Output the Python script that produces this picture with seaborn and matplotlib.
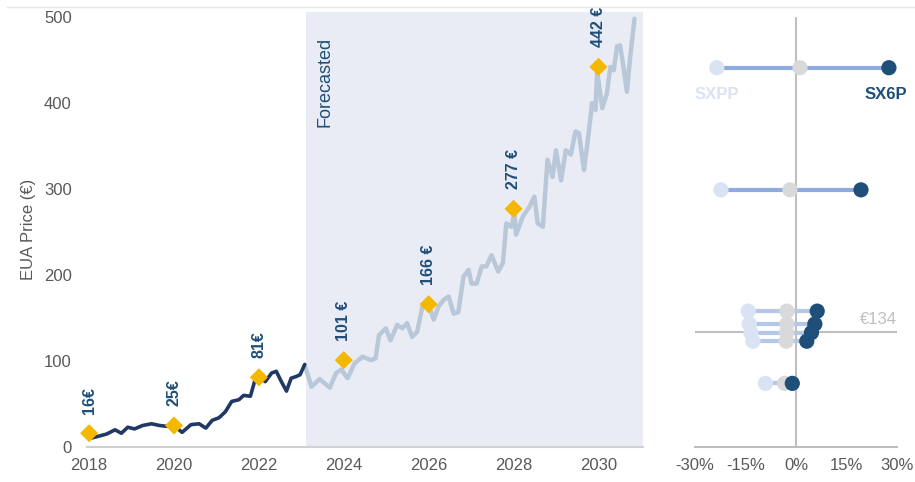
import matplotlib
matplotlib.use("Agg")
import matplotlib.pyplot as plt
import seaborn as sns
import pandas as pd
from matplotlib.lines import Line2D

# ---------------- data ----------------
hist_year = [2018.02, 2018.18, 2018.41, 2018.61, 2018.76, 2018.91, 2019.07, 2019.26, 2019.47,
             2019.66, 2019.84, 2020.00, 2020.19, 2020.40, 2020.59, 2020.75, 2020.90, 2021.06,
             2021.21, 2021.36, 2021.53, 2021.64, 2021.80, 2021.92, 2022.00, 2022.15, 2022.30,
             2022.41, 2022.53, 2022.65, 2022.76, 2022.88, 2022.97, 2023.08]
hist_price = [10, 12, 15, 20, 16, 23, 21, 25, 27, 25, 24, 25, 17, 26, 27, 22, 31, 34,
              41, 53, 55, 60, 59, 80, 82, 76, 86, 88, 76, 65, 80, 82, 84, 96]

fc_year = [2023.08, 2023.24, 2023.43, 2023.67, 2023.82, 2023.94, 2024.09, 2024.25, 2024.44,
           2024.64, 2024.75, 2024.83, 2024.99, 2025.10, 2025.26, 2025.38, 2025.49, 2025.61,
           2025.73, 2025.85, 2026.00, 2026.12, 2026.23, 2026.35, 2026.47, 2026.59, 2026.70,
           2026.82, 2026.94, 2027.01, 2027.13, 2027.25, 2027.36, 2027.48, 2027.64, 2027.75,
           2027.83, 2027.95, 2028.02, 2028.06, 2028.22, 2028.37, 2028.49, 2028.57, 2028.69,
           2028.80, 2028.92, 2029.00, 2029.12, 2029.23, 2029.35, 2029.46, 2029.54, 2029.66,
           2029.77, 2029.85, 2029.93, 2029.97, 2030.09, 2030.20, 2030.28, 2030.36, 2030.44,
           2030.51, 2030.59, 2030.67, 2030.75, 2030.85]
fc_price = [95, 70, 79, 69, 86, 90, 80, 97, 105, 101, 103, 130, 138, 124, 142, 138, 144, 128,
            134, 163, 165, 148, 163, 171, 175, 155, 157, 198, 206, 190, 190, 210, 210, 223,
            204, 214, 260, 256, 272, 247, 268, 279, 291, 260, 256, 334, 314, 345, 310, 345,
            340, 367, 365, 322, 365, 400, 392, 436, 394, 411, 442, 438, 466, 467, 442, 413,
            454, 498]

marker_year = [2018, 2020, 2022, 2024, 2026, 2028, 2030]
marker_price = [16, 25, 81, 101, 166, 277, 442]
marker_label = ["16€", "25€", "81€", "101 €", "166 €", "277 €", "442 €"]

forecast_start = 2023.1

# dumbbell panel: EUA price level and returns (%)
db_price = [441, 299, 158, 143, 133, 123, 74]
db_sxpp = [-23.5, -22.3, -14.2, -13.9, -13.4, -12.8, -9.1]
db_mid = [1.2, -1.8, -2.7, -2.7, -2.8, -2.9, -3.4]
db_sx6p = [27.6, 19.3, 6.3, 5.6, 4.6, 3.2, -1.1]
ref_price = 134
xticks_right = [-30, -15, 0, 15, 30]
yticks_left = [0, 100, 200, 300, 400, 500]
xticks_left = [2018, 2020, 2022, 2024, 2026, 2028, 2030]

# ---------------- style ----------------
sns.set_theme(style="white")
plt.rcParams["font.family"] = ["Liberation Sans", "DejaVu Sans"]

NAVY = "#1f3864"
LABEL_BLUE = "#1f4e79"
FC_COL = "#b9c8d8"
GOLD = "#f5b800"
TICK = "#595959"
SHADE = "#e9ecf4"
TS = 12

fig = plt.figure(figsize=(9.15, 4.82), dpi=100)
W, H = 915, 482

def axpos(x0, x1, ytop, ybot):
    return [x0 / W, 1 - ybot / H, (x1 - x0) / W, (ybot - ytop) / H]

ax = fig.add_axes(axpos(87, 643, 12, 447))
axr = fig.add_axes(axpos(695, 897, 12, 447))

YMAX = 505.8

# ---------------- left panel ----------------
ax.axvspan(forecast_start, 2031.05, color=SHADE, zorder=0, lw=0)
hist = pd.DataFrame({"year": hist_year, "price": hist_price})
fc = pd.DataFrame({"year": fc_year, "price": fc_price})
sns.lineplot(data=fc, x="year", y="price", ax=ax, color=FC_COL, lw=3.2, zorder=2)
sns.lineplot(data=hist, x="year", y="price", ax=ax, color=NAVY, lw=2.6, zorder=3)
mk = pd.DataFrame({"year": marker_year, "price": marker_price})
sns.scatterplot(data=mk, x="year", y="price", ax=ax, marker="D", s=85, color=GOLD,
                edgecolor="none", zorder=4, clip_on=False)
for xv, yv, lab in zip(marker_year, marker_price, marker_label):
    ax.annotate(lab, (xv, yv), xytext=(0, 14), textcoords="offset points",
                rotation=90, ha="center", va="bottom", fontsize=11.5,
                fontweight="bold", color=LABEL_BLUE)
ax.text(forecast_start + 0.45, 477, "Forecasted", rotation=90, ha="center", va="top",
        fontsize=13, color=LABEL_BLUE)

ax.set_xlim(2017.95, 2031.05)
ax.set_ylim(0, YMAX)
ax.set_xticks(xticks_left)
ax.set_yticks(yticks_left)
ax.set_xlabel("")
ax.set_ylabel("EUA Price (€)", fontsize=TS, color=TICK, labelpad=6)
ax.tick_params(axis="x", labelsize=TS, labelcolor=TICK, length=0, pad=8)
ax.tick_params(axis="y", labelsize=TS, labelcolor=TICK, length=0, pad=11)
for s in ["top", "right", "left"]:
    ax.spines[s].set_visible(False)
ax.spines["bottom"].set_color("#d0d0d0")
ax.spines["bottom"].set_linewidth(1.5)

# ---------------- right panel ----------------
axr.axvline(0, ymin=0, ymax=499 / YMAX, color="#bfbfbf", lw=1.5, zorder=1)
axr.axhline(ref_price, color="#bfbfbf", lw=1.5, zorder=1)
line_cols = ["#8faadc", "#8faadc", "#b4c7e7", "#b4c7e7", "#b4c7e7", "#b4c7e7", "#b4c7e7"]
for p, a, b, c in zip(db_price, db_sxpp, db_sx6p, line_cols):
    axr.plot([a, b], [p, p], color=c, lw=3, zorder=2, solid_capstyle="butt")
db = pd.DataFrame({"price": db_price, "sxpp": db_sxpp, "mid": db_mid, "sx6p": db_sx6p})
sns.scatterplot(data=db, x="sxpp", y="price", ax=axr, s=120, color="#dae3f3",
                edgecolor="none", zorder=3)
sns.scatterplot(data=db, x="mid", y="price", ax=axr, s=120, color="#d9d9d9",
                edgecolor="none", zorder=3)
sns.scatterplot(data=db, x="sx6p", y="price", ax=axr, s=120, color="#1f4e79",
                edgecolor="none", zorder=4)
axr.text(db_sxpp[0], db_price[0] - 31, "SXPP", ha="center", va="center", fontsize=12,
         fontweight="bold", color="#dae3f3")
axr.text(db_sx6p[0] - 1, db_price[0] - 31, "SX6P", ha="center", va="center",
         fontsize=12, fontweight="bold", color="#1f4e79")
axr.text(30, ref_price + 6, "€134", ha="right", va="bottom", fontsize=TS,
         color="#bfbfbf")

axr.set_xlim(-30, 30)
axr.set_ylim(0, YMAX)
axr.set_xticks(xticks_right)
axr.set_xticklabels([f"{v}%" for v in xticks_right])
axr.set_yticks([])
axr.set_xlabel("")
axr.set_ylabel("")
axr.tick_params(axis="x", labelsize=TS, labelcolor=TICK, length=0, pad=8)
for s in ["top", "right", "left"]:
    axr.spines[s].set_visible(False)
axr.spines["bottom"].set_color("#bfbfbf")
axr.spines["bottom"].set_linewidth(1.5)

# top rule
fig.add_artist(Line2D([7 / W, 1], [1 - 7 / H, 1 - 7 / H], transform=fig.transFigure,
                      color="#e6e6e6", lw=1))

fig.savefig("out.png", dpi=100)
